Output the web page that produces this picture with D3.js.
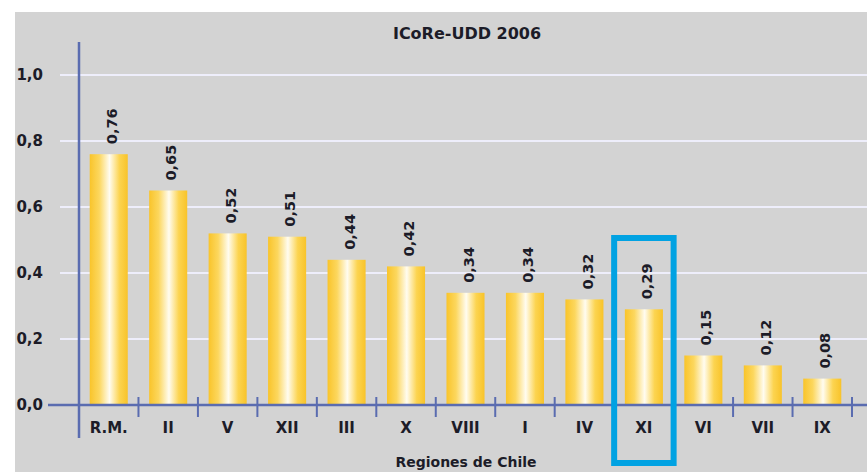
<!DOCTYPE html>
<html>
<head>
<meta charset="utf-8">
<script src="https://cdnjs.cloudflare.com/ajax/libs/d3/7.8.5/d3.min.js"></script>
<style>
  html, body { margin: 0; padding: 0; background: #ffffff; }
  svg { display: block; }
  text { font-family: "DejaVu Sans", sans-serif; font-weight: bold; fill: #1c1c28; }
</style>
</head>
<body>
<div id="chart"></div>
<script>
// Data
var regions   = ['R.M.', 'II', 'V', 'XII', 'III', 'X', 'VIII', 'I', 'IV', 'XI', 'VI', 'VII', 'IX'];
var values    = [0.76, 0.65, 0.52, 0.51, 0.44, 0.42, 0.34, 0.34, 0.32, 0.29, 0.15, 0.12, 0.08];
var yTicks    = [0, 0.2, 0.4, 0.6, 0.8, 1.0];
var title     = 'ICoRe-UDD 2006';
var xTitle    = 'Regiones de Chile';
var highlight = 'XI';

var width = 867, height = 472;
var fmt = function(v, n) { return v.toFixed(n).replace('.', ','); };

var data = regions.map(function(r, i) { return { label: r, value: values[i] }; });

var svg = d3.select('#chart').append('svg')
  .attr('width', width)
  .attr('height', height);

// gradient for the bars
var grad = svg.append('defs').append('linearGradient')
  .attr('id', 'barGrad')
  .attr('x1', '0%').attr('x2', '100%').attr('y1', '0%').attr('y2', '0%');
grad.append('stop').attr('offset', '0%').attr('stop-color', '#f9c42a');
grad.append('stop').attr('offset', '25%').attr('stop-color', '#fcd75e');
grad.append('stop').attr('offset', '52%').attr('stop-color', '#fffcf0');
grad.append('stop').attr('offset', '78%').attr('stop-color', '#fcd450');
grad.append('stop').attr('offset', '100%').attr('stop-color', '#f8c32a');

// grey panel
svg.append('rect')
  .attr('x', 15).attr('y', 12)
  .attr('width', width - 15).attr('height', height - 12)
  .attr('fill', '#d3d3d3');

var x = d3.scaleBand()
  .domain(regions)
  .range([79, 852])
  .paddingInner(0.36)
  .paddingOuter(0.18);

var y = d3.scaleLinear()
  .domain([0, 1.1])
  .range([405, 42]);

var step = x.step();
var x0 = x.range()[0];

// gridlines
svg.selectAll('.grid')
  .data(yTicks.filter(function(d) { return d > 0; }))
.enter().append('line')
  .attr('class', 'grid')
  .attr('x1', 60).attr('x2', width)
  .attr('y1', function(d) { return y(d); })
  .attr('y2', function(d) { return y(d); })
  .attr('stroke', '#eeeefb')
  .attr('stroke-width', 2);

// y tick labels
svg.selectAll('.ylab')
  .data(yTicks)
.enter().append('text')
  .attr('class', 'ylab')
  .attr('x', 43)
  .attr('y', function(d) { return y(d); })
  .attr('dy', '0.35em')
  .attr('text-anchor', 'end')
  .style('font-size', '15px')
  .text(function(d) { return fmt(d, 1); });

// bars
svg.selectAll('.bar')
  .data(data)
.enter().append('rect')
  .attr('class', 'bar')
  .attr('x', function(d) { return x(d.label); })
  .attr('y', function(d) { return y(d.value); })
  .attr('width', x.bandwidth())
  .attr('height', function(d) { return y(0) - y(d.value); })
  .attr('fill', 'url(#barGrad)');

// value labels (rotated)
svg.selectAll('.bar-label')
  .data(data)
.enter().append('text')
  .attr('class', 'bar-label')
  .attr('transform', function(d) {
    return 'translate(' + (x(d.label) + x.bandwidth() / 2 + 3) + ',' + (y(d.value) - 10) + ') rotate(-90)';
  })
  .attr('dy', '0.35em')
  .attr('text-anchor', 'start')
  .style('font-size', '14.5px')
  .text(function(d) { return fmt(d.value, 2); });

// x axis line
svg.append('line')
  .attr('x1', 48).attr('x2', width)
  .attr('y1', y(0)).attr('y2', y(0))
  .attr('stroke', '#5a6cb0')
  .attr('stroke-width', 2.5);

// boundary ticks
svg.selectAll('.xtick')
  .data(d3.range(1, regions.length + 1))
.enter().append('line')
  .attr('class', 'xtick')
  .attr('x1', function(i) { return x0 + i * step; })
  .attr('x2', function(i) { return x0 + i * step; })
  .attr('y1', y(0) - 8).attr('y2', y(0) + 12)
  .attr('stroke', '#5a6cb0')
  .attr('stroke-width', 2);

// y axis line
svg.append('line')
  .attr('x1', x0).attr('x2', x0)
  .attr('y1', y(1.1)).attr('y2', y(0) + 33)
  .attr('stroke', '#5a6cb0')
  .attr('stroke-width', 2.5);

// category labels
svg.selectAll('.xlab')
  .data(regions)
.enter().append('text')
  .attr('class', 'xlab')
  .attr('x', function(d) { return x(d) + x.bandwidth() / 2; })
  .attr('y', y(0) + 23)
  .attr('dy', '0.35em')
  .attr('text-anchor', 'middle')
  .style('font-size', '15px')
  .text(function(d) { return d; });

// title
svg.append('text')
  .attr('x', 467).attr('y', 33)
  .attr('dy', '0.35em')
  .attr('text-anchor', 'middle')
  .style('font-size', '16px')
  .text(title);

// x axis title
svg.append('text')
  .attr('x', 466).attr('y', 467)
  .attr('text-anchor', 'middle')
  .style('font-size', '14px')
  .text(xTitle);

// highlight box
svg.append('rect')
  .attr('x', x(highlight) - (step - x.bandwidth()) / 2)
  .attr('y', y(0.5) - 2)
  .attr('width', step)
  .attr('height', y(0) + 60 - y(0.5))
  .attr('fill', 'none')
  .attr('stroke', '#01a2e2')
  .attr('stroke-width', 6);
</script>
</body>
</html>
